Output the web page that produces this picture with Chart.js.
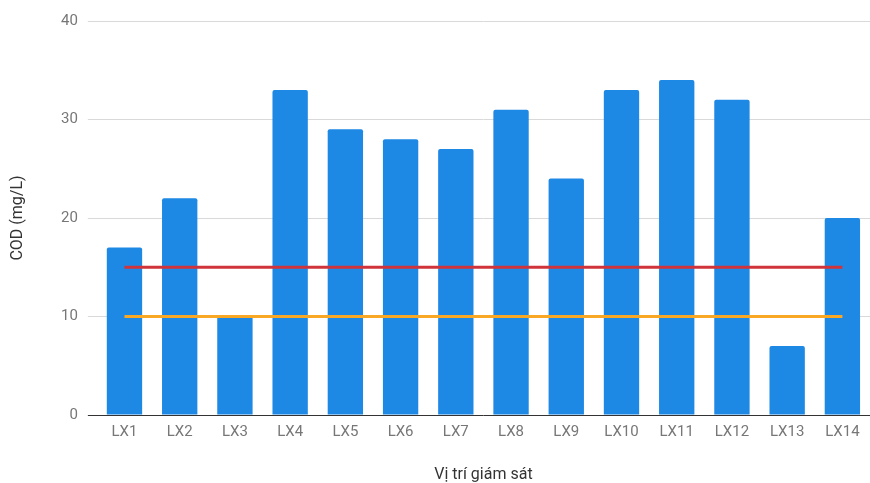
<!DOCTYPE html>
<html>
<head>
<meta charset="utf-8">
<script src="https://cdn.jsdelivr.net/npm/chart.js@4/dist/chart.umd.min.js"></script>
<style>
html,body{margin:0;padding:0;background:#fff;}
#wrap{width:870px;height:483px;position:relative;}
</style>
</head>
<body>
<div id="wrap"><canvas id="c"></canvas></div>
<script>
const categories = ["LX1","LX2","LX3","LX4","LX5","LX6","LX7","LX8","LX9","LX10","LX11","LX12","LX13","LX14"];
const codValues = [17,22,10,33,29,28,27,31,24,33,34,32,7,20];
const limitRed = [15,15,15,15,15,15,15,15,15,15,15,15,15,15];
const limitOrange = [10,10,10,10,10,10,10,10,10,10,10,10,10,10];
const yTicks = [0,10,20,30,40];

new Chart(document.getElementById('c'), {
  data: {
    labels: categories,
    datasets: [
      {type:'line', data: limitRed, borderColor:'#d0343a', borderWidth:3, pointRadius:0, fill:false, order:0},
      {type:'line', data: limitOrange, borderColor:'#f9a825', borderWidth:3, pointRadius:0, fill:false, order:0},
      {type:'bar', data: codValues, backgroundColor:'#1e88e5', borderRadius:2, borderSkipped:'bottom',
       categoryPercentage:0.8, barPercentage:0.8, order:1}
    ]
  },
  options: {
    responsive:true, maintainAspectRatio:false, animation:false,
    layout:{padding:{left:6,right:0,top:21,bottom:0}},
    plugins:{legend:{display:false}, tooltip:{enabled:false}},
    scales:{
      x:{
        grid:{display:false, drawTicks:false},
        border:{display:true, color:'#333', width:1, z:1},
        ticks:{color:'#777', font:{family:'Roboto', size:15}, padding:8, maxRotation:0, autoSkip:false},
        title:{display:true, text:'Vị trí giám sát', color:'#333', font:{family:'Roboto', size:16, lineHeight:1.0}, padding:{top:18, bottom:0}}
      },
      y:{
        min:0, max:40,
        afterBuildTicks: (axis) => { axis.ticks = yTicks.map(v => ({value:v})); },
        grid:{color:'#d9d9d9', drawTicks:true, tickLength:9,
              tickColor: (ctx) => (ctx.tick && ctx.tick.value === 0) ? '#333' : '#d9d9d9'},
        border:{display:false},
        ticks:{color:'#777', font:{family:'Roboto', size:15}, padding:10},
        title:{display:true, text:'COD (mg/L)', color:'#333', font:{family:'Roboto', size:16, lineHeight:1.0}, padding:{top:4, bottom:25}}
      }
    }
  }
});
</script>
</body>
</html>
